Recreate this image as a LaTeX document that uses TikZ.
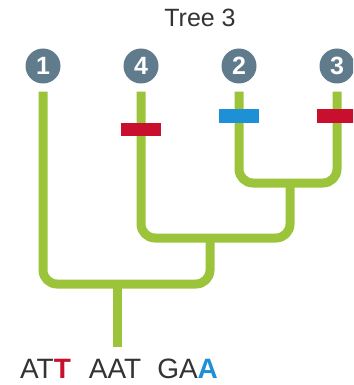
\documentclass[tikz,border=0pt]{standalone}
\usepackage{fontspec}
\setmainfont{Liberation Sans}
\usetikzlibrary{positioning}
\definecolor{branchgreen}{HTML}{9CC43B}
\definecolor{mutred}{HTML}{C8102E}
\definecolor{mutblue}{HTML}{1E90D6}
\definecolor{taxongrey}{HTML}{5F7B8C}

\begin{document}
\begin{tikzpicture}[x=1pt,y=-1pt,
  taxon/.style={circle,fill=taxongrey,text=white,inner sep=0pt,minimum size=35pt,
    font=\fontsize{25}{25}\selectfont\bfseries},
  branch/.style={draw=branchgreen,line width=9pt,rounded corners=14pt},
  mutation/.style={rectangle,inner sep=0pt,minimum width=40pt,minimum height=13pt}]
  \useasboundingbox (0,0) rectangle (353,385);
  \clip (0,0) rectangle (353,385);

  \node[font=\fontsize{25}{25}\selectfont,text=black!80] (title) at (200,18) {Tree 3};

  \node[taxon] (t1) at (43,66) {1};
  \node[taxon] (t4) at (141,66) {4};
  \node[taxon] (t2) at (239,66) {2};
  \node[taxon] (t3) at (337,66) {3};

  % inner nodes of the tree
  \coordinate (j23) at (290,183);
  \coordinate (j423) at (210,238);
  \coordinate (jroot) at (117,284);
  \coordinate (root) at (117,347);

  \draw[branch] ([yshift=-8pt]t2.south) |- (j23) -| ([yshift=-8pt]t3.south);
  \draw[branch] ([yshift=-8pt]t4.south) |- (j423) -| (j23);
  \draw[branch] ([yshift=-8pt]t1.south) |- (jroot) -| (j423);
  \draw[branch] (jroot) -- (root);

  \node[mutation,fill=mutred] (m4) at (141,129) {};
  \node[mutation,fill=mutblue] (m2) at (239,116) {};
  \node[mutation,fill=mutred] (m3) at (337,116) {};

  \node[anchor=base,font=\fontsize{28}{28}\selectfont,text=black!80] (seq) at (119,378)
    {AT\textcolor{mutred}{\bfseries T}\hspace{18pt}AAT\hspace{16pt}GA\textcolor{mutblue}{\bfseries A}};
\end{tikzpicture}
\end{document}
